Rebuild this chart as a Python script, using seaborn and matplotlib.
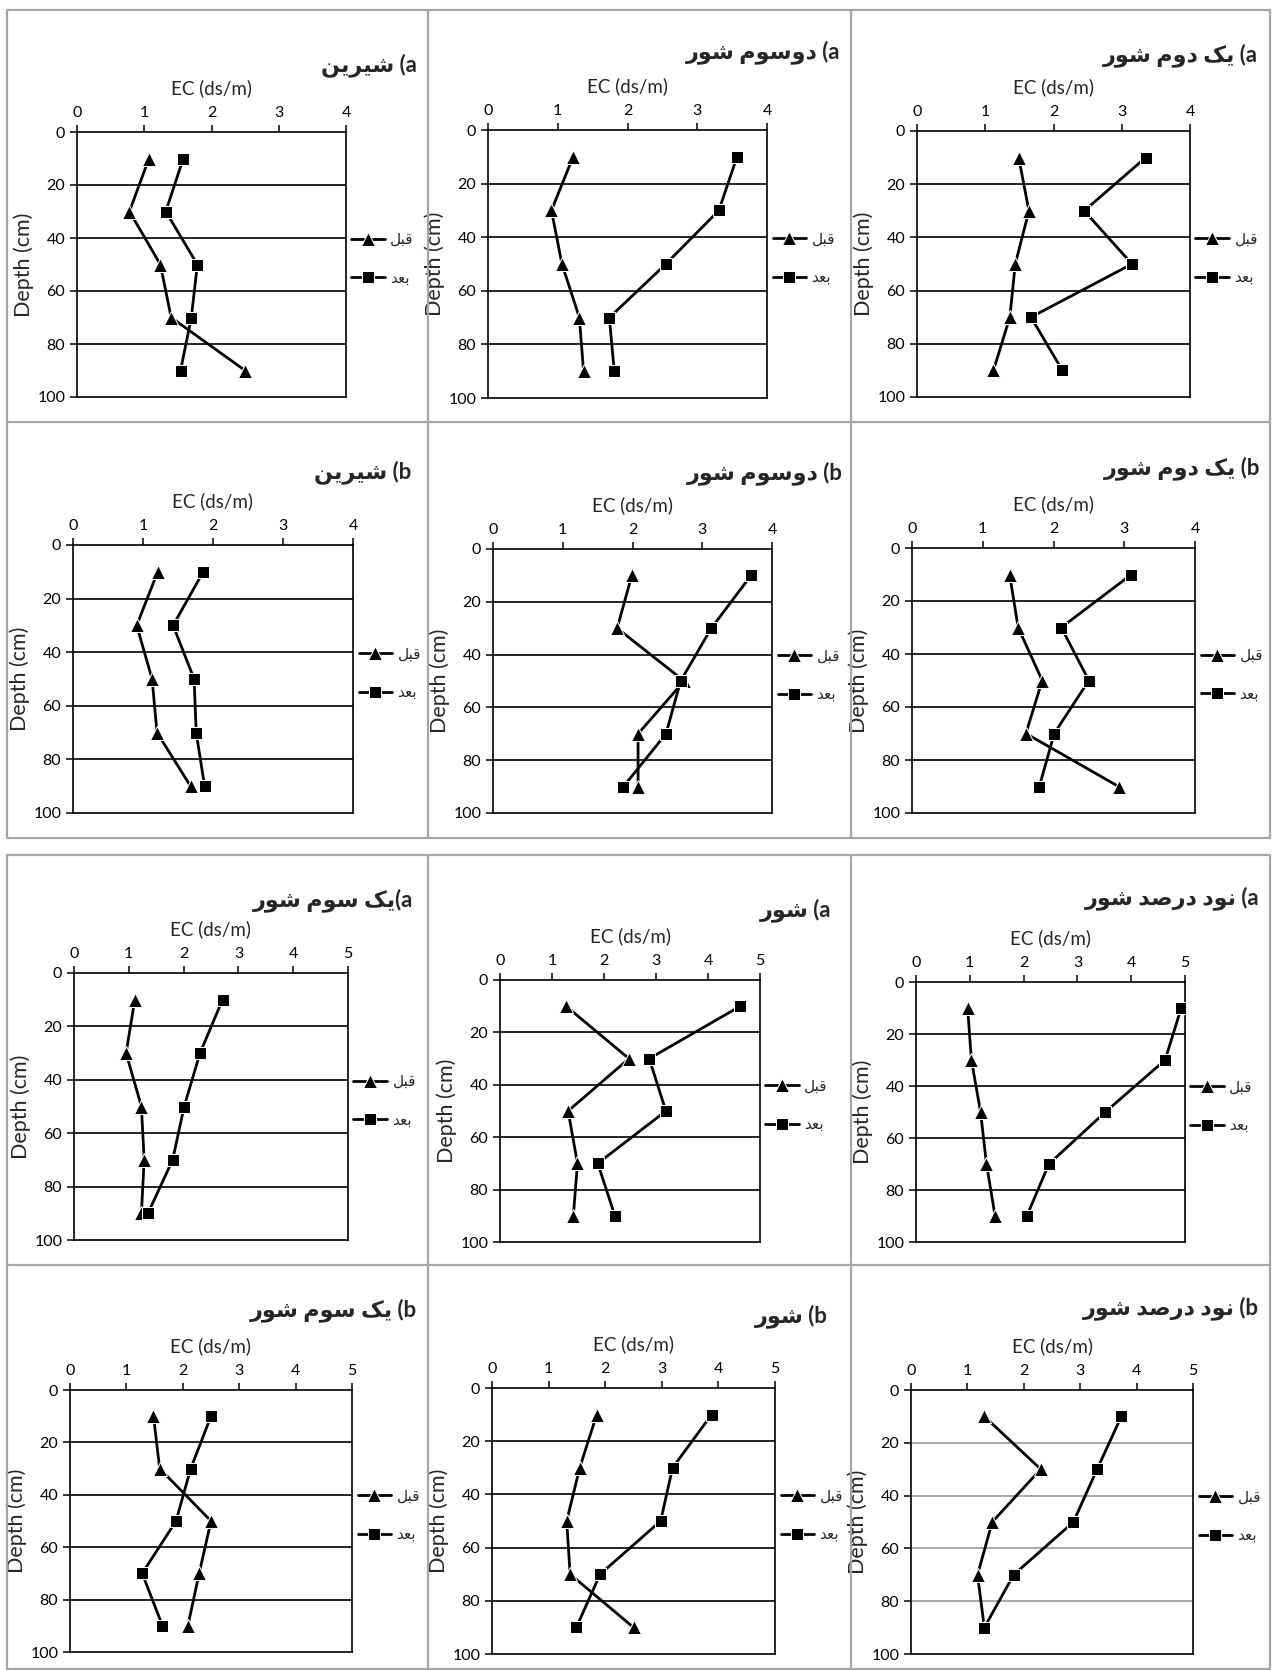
import matplotlib
matplotlib.use("Agg")
import matplotlib.pyplot as plt
import seaborn as sns
from matplotlib.lines import Line2D

sns.set_style("ticks")
plt.rcParams['font.family'] = ['Lato', 'DejaVu Sans']

# depth of samples (cm)
depth = [10, 30, 50, 70, 90]

# EC (ds/m) before / after
shirin_a_before = [1.07, 0.78, 1.24, 1.40, 2.50]
shirin_a_after = [1.58, 1.32, 1.79, 1.70, 1.54]
dosevom_a_before = [1.22, 0.91, 1.06, 1.31, 1.37]
dosevom_a_after = [3.57, 3.31, 2.55, 1.74, 1.81]
yekdovom_a_before = [1.49, 1.64, 1.44, 1.36, 1.12]
yekdovom_a_after = [3.35, 2.45, 3.15, 1.67, 2.13]

shirin_b_before = [1.21, 0.91, 1.13, 1.20, 1.68]
shirin_b_after = [1.86, 1.43, 1.73, 1.76, 1.88]
dosevom_b_before = [1.99, 1.78, 2.74, 2.08, 2.08]
dosevom_b_after = [3.70, 3.13, 2.69, 2.48, 1.87]
yekdovom_b_before = [1.38, 1.50, 1.84, 1.61, 2.92]
yekdovom_b_after = [3.10, 2.11, 2.50, 2.01, 1.80]

yeksevom_a_before = [1.11, 0.95, 1.23, 1.28, 1.23]
yeksevom_a_after = [2.71, 2.30, 2.01, 1.80, 1.35]
shor_a_before = [1.27, 2.48, 1.31, 1.49, 1.41]
shor_a_after = [4.62, 2.87, 3.19, 1.88, 2.21]
navad_a_before = [0.96, 1.03, 1.20, 1.31, 1.47]
navad_a_after = [4.93, 4.63, 3.52, 2.47, 2.06]

yeksevom_b_before = [1.48, 1.59, 2.50, 2.29, 2.09]
yeksevom_b_after = [2.50, 2.14, 1.88, 1.28, 1.64]
shor_b_before = [1.85, 1.55, 1.32, 1.38, 2.50]
shor_b_after = [3.88, 3.19, 2.98, 1.91, 1.49]
navad_b_before = [1.30, 2.30, 1.44, 1.18, 1.30]
navad_b_after = [3.73, 3.30, 2.88, 1.82, 1.30]

label_before = "قبل"
label_after = "بعد"

# --- tiny persian shaper (matplotlib has no bidi / joining) ---
FORMS = {
    '\u0628': ('\uFE8F', '\uFE90', '\uFE91', '\uFE92'),
    '\u062F': ('\uFEA9', '\uFEAA', None, None),
    '\u0631': ('\uFEAD', '\uFEAE', None, None),
    '\u0633': ('\uFEB1', '\uFEB2', '\uFEB3', '\uFEB4'),
    '\u0634': ('\uFEB5', '\uFEB6', '\uFEB7', '\uFEB8'),
    '\u0635': ('\uFEB9', '\uFEBA', '\uFEBB', '\uFEBC'),
    '\u0639': ('\uFEC9', '\uFECA', '\uFECB', '\uFECC'),
    '\u0642': ('\uFED5', '\uFED6', '\uFED7', '\uFED8'),
    '\u0644': ('\uFEDD', '\uFEDE', '\uFEDF', '\uFEE0'),
    '\u0645': ('\uFEE1', '\uFEE2', '\uFEE3', '\uFEE4'),
    '\u0646': ('\uFEE5', '\uFEE6', '\uFEE7', '\uFEE8'),
    '\u0648': ('\uFEED', '\uFEEE', None, None),
    '\u06CC': ('\uFBFC', '\uFBFD', '\uFBFE', '\uFBFF'),
    '\u06A9': ('\uFB8E', '\uFB8F', '\uFB90', '\uFB91'),
}


def fa(text):
    out = []
    for i, ch in enumerate(text):
        if ch not in FORMS:
            out.append(ch)
            continue
        prev = text[i - 1] if i > 0 else ''
        nxt = text[i + 1] if i + 1 < len(text) else ''
        dual = FORMS[ch][2] is not None
        join_prev = prev in FORMS and FORMS[prev][2] is not None
        join_next = dual and nxt in FORMS
        if join_prev and join_next:
            out.append(FORMS[ch][3])
        elif join_prev:
            out.append(FORMS[ch][1])
        elif join_next:
            out.append(FORMS[ch][2])
        else:
            out.append(FORMS[ch][0])
    return ''.join(out[::-1])


W, H = 1273, 1670
fig = plt.figure(figsize=(W / 100, H / 100), dpi=100)

# (before, after, title word, letter, gap, xmax, axes box px, title pos px, grid colour)
panels = [
    (shirin_a_before, shirin_a_after, "شیرین", "a", " ", 4, (77, 132, 346, 397), (417, 65), 'black'),
    (dosevom_a_before, dosevom_a_after, "دوسوم شور", "a", " ", 4, (488, 130, 767, 398), (840, 52), 'black'),
    (yekdovom_a_before, yekdovom_a_after, "یک دوم شور", "a", " ", 4, (917, 131, 1190, 397), (1258, 55), 'black'),
    (shirin_b_before, shirin_b_after, "شیرین", "b", " ", 4, (73, 545, 353, 813), (411, 472), 'black'),
    (dosevom_b_before, dosevom_b_after, "دوسوم شور", "b", " ", 4, (493, 549, 772, 813), (843, 473), 'black'),
    (yekdovom_b_before, yekdovom_b_after, "یک دوم شور", "b", " ", 4, (912, 548, 1195, 813), (1260, 468), 'black'),
    (yeksevom_a_before, yeksevom_a_after, "یک سوم شور", "a", "", 5, (74, 973, 348, 1240), (413, 900), 'black'),
    (shor_a_before, shor_a_after, "شور", "a", " ", 5, (500, 980, 760, 1242), (831, 910), 'black'),
    (navad_a_before, navad_a_after, "نود درصد شور", "a", " ", 5, (916, 982, 1185, 1242), (1259, 898), 'black'),
    (yeksevom_b_before, yeksevom_b_after, "یک سوم شور", "b", " ", 5, (70, 1390, 352, 1652), (417, 1310), 'black'),
    (shor_b_before, shor_b_after, "شور", "b", " ", 5, (492, 1388, 775, 1654), (828, 1316), 'black'),
    (navad_b_before, navad_b_after, "نود درصد شور", "b", " ", 5, (911, 1390, 1193, 1654), (1259, 1308), '#999999'),
]

for before, after, word, letter, gap, xmax, box, tpos, gcol in panels:
    l, t, r, b = box
    ax = fig.add_axes([l / W, 1 - b / H, (r - l) / W, (b - t) / H])
    for y in [20, 40, 60, 80]:
        ax.axhline(y, color=gcol, lw=1.2, zorder=1)
    sns.lineplot(x=before, y=depth, orient='y', ax=ax, color='black', marker='^',
                 markersize=10, linewidth=2, errorbar=None, label=fa(label_before), zorder=3)
    sns.lineplot(x=after, y=depth, orient='y', ax=ax, color='black', marker='s',
                 markersize=9, linewidth=2, errorbar=None, label=fa(label_after), zorder=3)
    ax.set_xlim(0, xmax)
    ax.set_ylim(100, 0)
    ax.set_xticks(range(0, xmax + 1))
    ax.set_yticks(range(0, 101, 20))
    ax.xaxis.tick_top()
    ax.xaxis.set_label_position('top')
    ax.set_xlabel('EC (ds/m)', fontsize=13.5, labelpad=9)
    ax.set_ylabel('Depth (cm)', fontsize=15.5, labelpad=2)
    ax.tick_params(direction='out', length=5, width=1.1, labelsize=11.5, colors='black')
    for s in ax.spines.values():
        s.set_visible(True)
        s.set_color('black')
        s.set_linewidth(1.2)
    ax.legend(loc='center left', bbox_to_anchor=(1.02, 0.52), frameon=False,
              fontsize=11, handlelength=2.2, handletextpad=0.35, labelspacing=1.6,
              borderpad=0, borderaxespad=0)
    fig.text(tpos[0] / W, 1 - tpos[1] / H, fa(word) + gap + "(" + letter,
             ha='right', va='center', fontsize=16, fontweight='bold')

# panel frames
frame = '#a6a6a6'


def hline(y, x0, x1):
    fig.add_artist(Line2D([x0 / W, x1 / W], [1 - y / H, 1 - y / H], color=frame, lw=1.6))


def vline(x, y0, y1):
    fig.add_artist(Line2D([x / W, x / W], [1 - y0 / H, 1 - y1 / H], color=frame, lw=1.6))


for top, mid, bot in [(10, 422, 838), (855, 1265, 1669)]:
    for y in (top, mid, bot):
        hline(y, 7, 1270)
    for x in (7, 428, 851, 1270):
        vline(x, top, bot)

fig.savefig('out.png', dpi=100)
